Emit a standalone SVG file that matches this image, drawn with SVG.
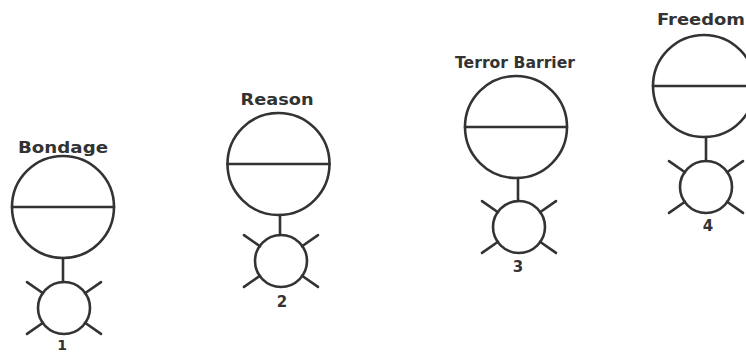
<svg xmlns="http://www.w3.org/2000/svg" xmlns:xlink="http://www.w3.org/1999/xlink" width="746" height="354" viewBox="0 0 746 354">
<style>
.s{fill:none;stroke:#333;stroke-width:2.6;stroke-linecap:round}
.lbl{font-family:"DejaVu Sans","Liberation Sans",sans-serif;font-weight:bold;font-size:16px;fill:#333;text-anchor:middle}
.num{font-family:"DejaVu Sans","Liberation Sans",sans-serif;font-weight:bold;font-size:15px;fill:#333;text-anchor:middle}
</style>
<defs>
<g id="small">
<circle class="s" cx="0" cy="0" r="26"/>
<line class="s" x1="-21" y1="-14.7" x2="-37" y2="-25.9"/>
<line class="s" x1="21" y1="-14.7" x2="37" y2="-25.9"/>
<line class="s" x1="-21" y1="14.7" x2="-37" y2="25.9"/>
<line class="s" x1="21" y1="14.7" x2="37" y2="25.9"/>
</g>
<g id="big">
<circle class="s" cx="0" cy="0" r="51"/>
<line class="s" x1="-51" y1="0" x2="51" y2="0"/>
</g>
</defs>
<rect width="746" height="354" fill="#fff"/>
<g id="connectors">
<line class="s" x1="63" y1="258" x2="63" y2="282"/>
<line class="s" x1="280" y1="215" x2="280" y2="235"/>
<line class="s" x1="518" y1="178" x2="518" y2="201"/>
<line class="s" x1="706" y1="137" x2="706" y2="161"/>
</g>
<g id="bondage">
<text class="lbl" x="63" y="153" textLength="90" lengthAdjust="spacingAndGlyphs">Bondage</text>
<use xlink:href="#big" x="63" y="207"/>
</g>
<g id="stage1">
<use xlink:href="#small" x="64" y="308"/>
<text class="num" x="62" y="350" style="font-size:14px">1</text>
</g>
<g id="reason">
<text class="lbl" x="277" y="105" textLength="73" lengthAdjust="spacingAndGlyphs">Reason</text>
<use xlink:href="#big" x="278.5" y="164"/>
</g>
<g id="stage2">
<use xlink:href="#small" x="281" y="261"/>
<text class="num" x="282" y="307">2</text>
</g>
<g id="terror-barrier">
<text class="lbl" x="515" y="68" textLength="120" lengthAdjust="spacingAndGlyphs">Terror Barrier</text>
<use xlink:href="#big" x="516" y="127"/>
</g>
<g id="stage3">
<use xlink:href="#small" x="519" y="227"/>
<text class="num" x="518" y="272">3</text>
</g>
<g id="freedom">
<text class="lbl" x="701" y="25" textLength="88" lengthAdjust="spacingAndGlyphs">Freedom</text>
<use xlink:href="#big" x="704" y="86"/>
</g>
<g id="stage4">
<use xlink:href="#small" x="706" y="187"/>
<text class="num" x="708" y="231">4</text>
</g>
</svg>
